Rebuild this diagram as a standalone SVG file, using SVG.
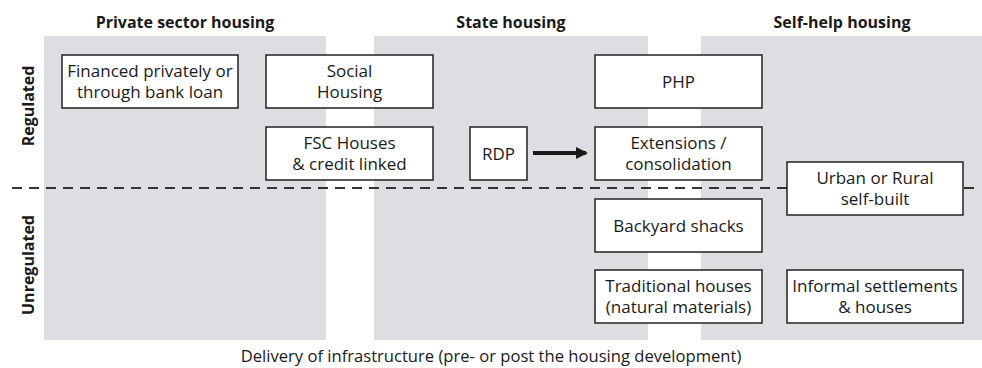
<svg xmlns="http://www.w3.org/2000/svg" width="982" height="368" viewBox="0 0 982 368">
<defs>
<style>
.panel{fill:#dddee1;stroke:none}
.box{fill:#ffffff;stroke:#222222;stroke-width:1.5}
.t{font-family:"Open Sans","Noto Sans",sans-serif;font-size:17px;fill:#1a1a1a;text-anchor:middle}
.b{font-family:"Open Sans","Noto Sans",sans-serif;font-size:16.6px;fill:#1a1a1a;text-anchor:middle}
.h{font-family:"Open Sans","Noto Sans",sans-serif;font-size:16px;font-weight:bold;fill:#1a1a1a;text-anchor:middle}
.sep{stroke:#333333;stroke-width:2;stroke-dasharray:10 7;fill:none}
.arrow{stroke:#1a1a1a;stroke-width:4;fill:none}
</style>
<marker id="ah" viewBox="0 0 12 12" refX="10" refY="6" markerWidth="12" markerHeight="12" markerUnits="userSpaceOnUse" orient="auto">
<path d="M0,0 L12,6 L0,12 Z" fill="#1a1a1a"/>
</marker>
</defs>
<rect width="982" height="368" fill="#ffffff"/>
<g id="panels">
<rect class="panel" x="44" y="36" width="282" height="304"/>
<rect class="panel" x="374" y="36" width="274" height="304"/>
<rect class="panel" x="701" y="36" width="281" height="304"/>
</g>
<g id="headings">
<text class="h" x="185" y="28">Private sector housing</text>
<text class="h" x="511" y="28">State housing</text>
<text class="h" x="842" y="28">Self-help housing</text>
<text class="h" transform="translate(34,106) rotate(-90)">Regulated</text>
<text class="h" transform="translate(34,265) rotate(-90)">Unregulated</text>
</g>
<line class="sep" x1="12" y1="188" x2="978" y2="188"/>
<g id="node-financed">
<rect class="box" x="62" y="55" width="176" height="53"/>
<text class="t" x="150" y="77">Financed privately or</text>
<text class="t" x="150" y="98">through bank loan</text>
</g>
<g id="node-social">
<rect class="box" x="266" y="55" width="167" height="53"/>
<text class="t" x="349.5" y="77">Social</text>
<text class="t" x="349.5" y="98">Housing</text>
</g>
<g id="node-fsc">
<rect class="box" x="266" y="127" width="167" height="53"/>
<text class="t" x="349.5" y="149">FSC Houses</text>
<text class="t" x="349.5" y="170">&amp; credit linked</text>
</g>
<g id="node-rdp">
<rect class="box" x="470" y="127" width="57" height="53"/>
<text class="t" x="498.5" y="159.5">RDP</text>
</g>
<g id="node-php">
<rect class="box" x="595" y="55" width="167" height="53"/>
<text class="t" x="678.5" y="87.5">PHP</text>
</g>
<g id="node-extensions">
<rect class="box" x="595" y="127" width="167" height="53"/>
<text class="t" x="678.5" y="149">Extensions /</text>
<text class="t" x="678.5" y="170">consolidation</text>
</g>
<g id="node-urban">
<rect class="box" x="787" y="162" width="176" height="53"/>
<text class="t" x="875" y="184">Urban or Rural</text>
<text class="t" x="875" y="205">self-built</text>
</g>
<g id="node-backyard">
<rect class="box" x="595" y="199" width="167" height="53"/>
<text class="t" x="678.5" y="231.5">Backyard shacks</text>
</g>
<g id="node-traditional">
<rect class="box" x="595" y="270" width="167" height="53"/>
<text class="t" x="678.5" y="292">Traditional houses</text>
<text class="t" x="678.5" y="313">(natural materials)</text>
</g>
<g id="node-informal">
<rect class="box" x="787" y="270" width="176" height="53"/>
<text class="t" x="875" y="292">Informal settlements</text>
<text class="t" x="875" y="313">&amp; houses</text>
</g>
<g id="connectors">
<line class="arrow" x1="533" y1="153" x2="586" y2="153" marker-end="url(#ah)"/>
</g>
<text class="b" x="491" y="362">Delivery of infrastructure (pre- or post the housing development)</text>
</svg>
